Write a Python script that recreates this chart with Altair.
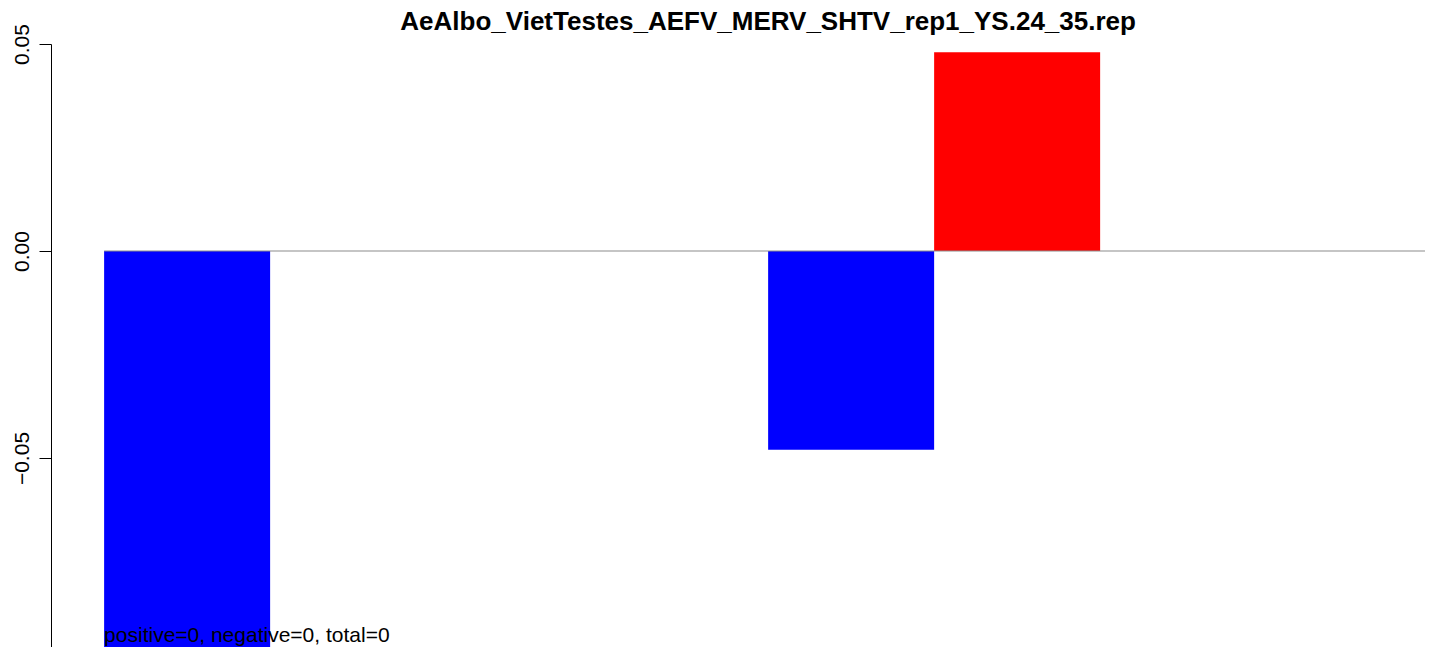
import altair as alt
import pandas as pd

# bar slots (R barplot, space=0) and their values
slots = [1, 2, 3, 4, 5, 6, 7, 8]
values = [-0.1, 0.0, 0.0, 0.0, -0.048, 0.048, 0.0, 0.0]
tick_values = [-0.05, 0.0, 0.05]
title_text = "AeAlbo_VietTestes_AEFV_MERV_SHTV_rep1_YS.24_35.rep"
note_text = "positive=0, negative=0, total=0"

rows = []
for s, v in zip(slots, values):
    if v != 0:
        rows.append({"x0": s - 1, "x1": s, "val": v, "base": 0.0,
                     "grp": "pos" if v > 0 else "neg"})
df = pd.DataFrame(rows)

FONT = "Liberation Sans"
xscale = alt.Scale(domain=[-0.32, 7.957], nice=False, zero=False)
yscale = alt.Scale(domain=[-0.09565, 0.05], nice=False, zero=False)

y_axis = alt.Axis(values=tick_values, format=".2f", title=None, grid=False,
                  tickSize=12, tickColor="black", domainColor="black",
                  labelColor="black", labelFont=FONT, labelFontSize=21,
                  labelAngle=270, labelAlign="center", labelBaseline="alphabetic",
                  labelPadding=11, labelFlush=False, labelOverlap=False)

bars = alt.Chart(df).mark_bar(clip=True).encode(
    x=alt.X("x0:Q", scale=xscale, axis=None),
    x2="x1:Q",
    y=alt.Y("val:Q", scale=yscale, axis=y_axis),
    y2="base:Q",
    color=alt.Color("grp:N", scale=alt.Scale(domain=["neg", "pos"], range=["#0000ff", "#ff0000"]),
                    legend=None),
)

zero_line = alt.Chart(pd.DataFrame({"ra": [0], "rb": [8], "ry": [0.0]})).mark_rule(
    color="#8c8c8c", strokeWidth=1.2, clip=True
).encode(
    x=alt.X("ra:Q", scale=xscale, axis=None), x2="rb:Q",
    y=alt.Y("ry:Q", scale=yscale, axis=y_axis)
)

note = alt.Chart(pd.DataFrame({"nx": [0], "ny": [-0.09445], "nt": [note_text]})).mark_text(
    align="left", baseline="alphabetic", font=FONT, fontSize=21, color="black"
).encode(
    x=alt.X("nx:Q", scale=xscale, axis=None),
    y=alt.Y("ny:Q", scale=yscale, axis=y_axis), text="nt:N"
)

title = alt.Chart(pd.DataFrame({"hx": [4.0], "hy": [0.05338], "ht": [title_text]})).mark_text(
    align="center", baseline="alphabetic", font=FONT, fontSize=26, fontWeight="bold",
    color="black"
).encode(
    x=alt.X("hx:Q", scale=xscale, axis=None),
    y=alt.Y("hy:Q", scale=yscale, axis=y_axis), text="ht:N"
)

chart = alt.layer(bars, zero_line, note, title).properties(
    width=1374, height=603,
    autosize=alt.AutoSizeParams(type="none"),
    padding={"left": 43, "top": 36, "right": 0, "bottom": 0},
).configure_view(stroke=None)

chart.save("out.html", embed_options={"renderer": "svg", "actions": False})
